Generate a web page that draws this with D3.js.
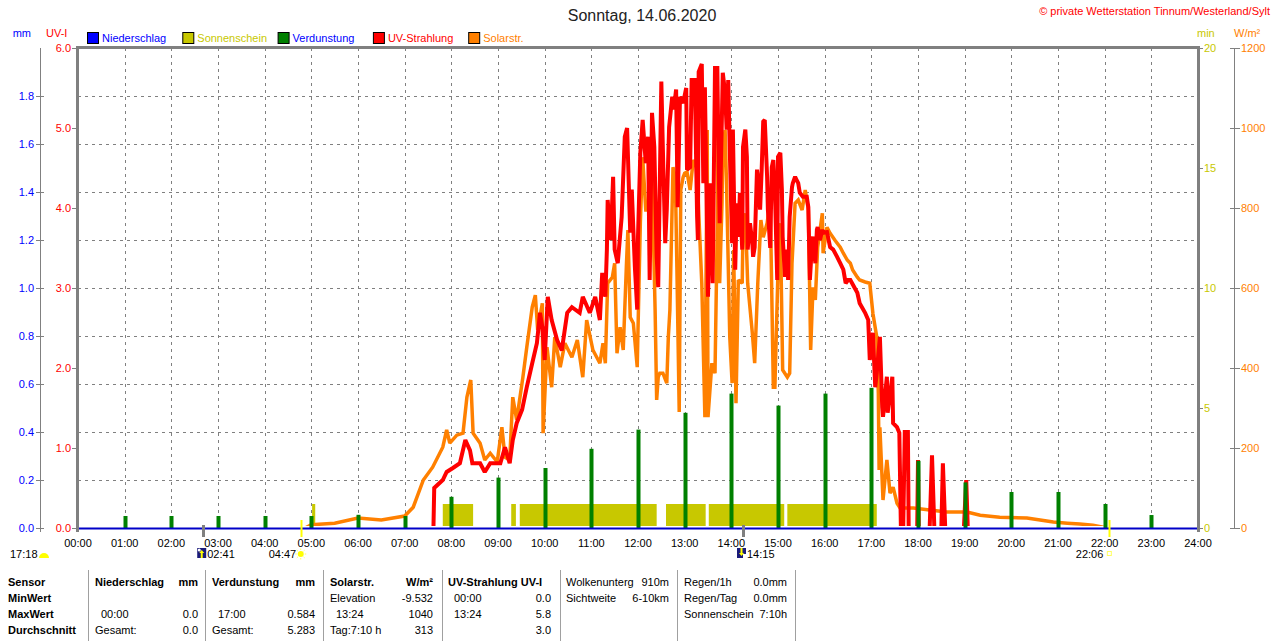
<!DOCTYPE html>
<html lang="de">
<head>
<meta charset="utf-8"/>
<title>Wetterstation Tinnum - 14.06.2020</title>
<script src="https://cdnjs.cloudflare.com/ajax/libs/d3/7.8.5/d3.min.js"></script>
<style>
  body { margin: 0; background: #fff; }
  svg { display: block; font-family: "Liberation Sans", Arial, sans-serif; }
</style>
</head>
<body>
<svg id="chart" width="1280" height="641"></svg>
<script>
// ---- data (time in minutes of the day) ----
var hourLabels = ["00:00","01:00","02:00","03:00","04:00","05:00","06:00","07:00","08:00","09:00","10:00","11:00",
  "12:00","13:00","14:00","15:00","16:00","17:00","18:00","19:00","20:00","21:00","22:00","23:00","24:00"];
var mmTicks = [0, 0.2, 0.4, 0.6, 0.8, 1.0, 1.2, 1.4, 1.6, 1.8];
var uvTicks = [0, 1, 2, 3, 4, 5, 6];
var minTicks = [0, 5, 10, 15, 20];
var solTicks = [0, 200, 400, 600, 800, 1000, 1200];

// Niederschlag (mm) - nothing fell
var rainTime = [0, 1440];
var rainMm = [0, 0];

// Verdunstung (mm), hourly
var evapTime = [60,120,180,240,300,360,420,480,540,600,660,720,780,840,900,960,1020,1080,1140,1200,1260,1320,1380];
var evapMm = [0.05,0.05,0.05,0.05,0.05,0.055,0.05,0.13,0.21,0.25,0.33,0.41,0.48,0.56,0.51,0.56,0.584,0.28,0.19,0.15,0.15,0.10,0.054];

// Sonnenschein (min per min) periods
var sunFrom = [301, 469, 557, 568, 756, 811, 912];
var sunTo = [305, 508, 563, 744, 807, 908, 1027];
var sunMin = [1, 1, 1, 1, 1, 1, 1];

// UV-Strahlung (UV-I)
var uvTime = [0,457,458,469,474,482,491,498,504,507,517,523,530,543,549,555,559,564,571,577,584,590,594,597,600,604,609,616,622,629,635,645,649,658,665,671,674,678,680,681,685,688,690,694,699,703,706,710,712,716,719,720,723,726,730,733,735,738,741,744,746,750,752,755,757,760,764,766,769,771,774,778,782,783,787,789,793,796,797,798,802,804,806,809,810,813,816,819,822,823,825,828,829,832,834,836,838,841,842,845,847,849,851,854,855,858,860,861,864,867,868,870,873,874,877,879,881,883,886,887,890,892,894,896,899,900,903,905,906,909,912,913,915,918,919,922,924,926,928,932,937,939,941,944,945,948,950,951,954,957,958,963,967,971,976,980,984,987,990,993,1002,1005,1012,1016,1018,1022,1025,1027,1031,1034,1035,1040,1041,1047,1048,1053,1056,1058,1061,1063,1067,1068,1079,1080,1081,1095,1098,1101,1110,1112,1115,1139,1142,1144,1440];
var uvIdx = [0,0,0.5,0.6,0.7,0.75,0.81,1.1,0.97,0.81,0.81,0.7,0.81,0.81,1.01,0.81,1.1,1.31,1.48,1.76,2.06,2.31,2.69,2.51,2.1,2.89,2.6,2.35,2.22,2.69,2.76,2.69,2.89,2.69,2.89,2.6,3.19,2.89,3.48,4.1,3.6,4.39,3.48,3.31,3.89,4.89,5.0,3.69,4.23,3.26,2.73,3.64,4.69,5.1,4.56,4.89,3.1,5.19,4.76,3.39,3.01,5.58,4.73,3.56,3.98,5.01,5.39,5.23,5.48,4.01,5.39,5.31,5.5,4.48,4.51,5.6,5.6,3.89,3.6,5.7,5.8,4.31,5.51,3.6,2.89,4.31,3.06,5.75,5.75,5.01,3.81,5.19,5.69,5.44,4.98,5.6,4.73,3.56,4.98,3.23,4.06,3.64,4.19,3.48,4.76,4.98,4.64,3.48,3.81,3.56,3.39,3.51,4.48,4.39,3.98,4.48,5.08,5.1,4.39,3.98,3.5,4.51,4.6,4.23,3.1,4.64,4.69,4.23,3.64,3.14,3.48,3.1,3.89,4.26,4.31,4.39,4.35,4.31,4.19,4.14,4.14,4.01,3.1,3.6,3.64,3.31,3.73,3.76,3.6,3.73,3.69,3.7,3.51,3.48,3.39,3.31,3.23,3.06,3.1,3.1,2.94,2.81,2.69,2.6,2.1,2.44,1.76,1.94,2.39,1.51,1.39,1.89,1.44,1.89,1.31,1.26,1.19,0,0,1.2,1.2,0,0,0.85,0,0,0.91,0,0,0.81,0,0,0.6,0,0];

// Solarstrahlung (W/m²)
var solTime = [0,292,300,330,360,390,420,431,444,456,469,474,478,487,495,500,505,508,517,523,530,539,545,549,555,559,564,572,577,584,588,591,597,598,603,609,613,620,626,635,642,649,654,662,671,675,678,681,687,690,693,697,701,705,707,710,714,719,720,723,726,730,733,738,742,744,746,748,752,757,759,761,765,768,770,773,775,778,780,783,787,791,795,797,802,806,809,810,815,819,822,823,825,828,829,832,834,838,841,843,846,849,854,855,858,861,867,870,874,878,881,886,890,894,896,900,903,906,912,915,918,922,926,931,935,939,942,945,948,951,957,958,963,967,973,980,984,989,993,996,1002,1005,1012,1018,1022,1027,1029,1030,1031,1035,1040,1044,1048,1053,1057,1074,1095,1117,1143,1160,1185,1220,1237,1254,1272,1288,1305,1318,1322,1440];
var solWm = [0,0,8,12,25,20,30,52,120,152,202,245,212,232,237,327,370,237,212,170,187,165,252,177,170,327,270,377,452,552,582,495,562,237,452,352,477,402,462,427,470,377,520,445,412,462,412,612,627,662,437,502,445,652,745,527,512,402,495,762,927,795,795,887,545,320,377,387,387,362,477,545,902,877,652,290,845,877,887,890,845,920,902,837,612,277,995,277,412,387,762,1015,612,812,945,995,845,477,362,695,312,620,612,752,787,612,487,412,612,770,727,762,820,352,352,645,762,395,377,387,662,812,820,795,845,795,445,602,570,702,787,687,752,737,720,702,687,670,662,645,627,620,615,612,537,477,337,145,252,70,170,87,102,62,50,50,45,40,40,32,27,25,20,15,12,10,7,2,0,0];

// sun / moon events shown under the time axis
var eventTime = [161, 287, 855, 1326];
var eventLabel = ["02:41", "04:47", "14:15", "22:06"];

// ---- chart ----
var svg = d3.select("#chart");
var L = 78, R = 1198, T = 48, B = 528;

var x = d3.scaleLinear().domain([0, 1440]).range([L, R]);
var yMM = d3.scaleLinear().domain([0, 2]).range([B, T]);
var yUV = d3.scaleLinear().domain([0, 6]).range([B, T]);
var yMin = d3.scaleLinear().domain([0, 20]).range([B, T]);
var ySol = d3.scaleLinear().domain([0, 1200]).range([B, T]);

var GRAY = "#808080";

// title + copyright
svg.append("text").attr("x", 642).attr("y", 21).attr("text-anchor", "middle")
  .style("font-size", "16px").attr("fill", "#222").text("Sonntag, 14.06.2020");
svg.append("text").attr("x", 1270).attr("y", 15).attr("text-anchor", "end")
  .style("font-size", "11px").attr("fill", "#ff0000").text("© private Wetterstation Tinnum/Westerland/Sylt");

// unit labels
var units = [
  {t: "mm", x: 31, a: "end", c: "#0000ff"},
  {t: "UV-I", x: 46, a: "start", c: "#ff0000"},
  {t: "min", x: 1197, a: "start", c: "#c8c800"},
  {t: "W/m²", x: 1234, a: "start", c: "#ff8000"}
];
svg.selectAll(".unit").data(units).enter().append("text")
  .attr("x", d => d.x).attr("y", 37).attr("text-anchor", d => d.a)
  .style("font-size", "11px").attr("fill", d => d.c).text(d => d.t);

// legend
var legend = [
  {t: "Niederschlag", box: "#0000ff", c: "#0000ff"},
  {t: "Sonnenschein", box: "#c8c800", c: "#c8c800"},
  {t: "Verdunstung", box: "#008000", c: "#0000ff"},
  {t: "UV-Strahlung", box: "#ff0000", c: "#ff0000"},
  {t: "Solarstr.", box: "#ff8000", c: "#ff8000"}
];
var lg = svg.selectAll(".lg").data(legend).enter().append("g")
  .attr("transform", (d, i) => "translate(" + (87 + i * 95.3) + ",32)");
lg.append("rect").attr("x", 0.5).attr("y", 0.5).attr("width", 11).attr("height", 11)
  .attr("fill", d => d.box).attr("stroke", "#000");
lg.append("text").attr("x", 15).attr("y", 10).style("font-size", "11px")
  .attr("fill", d => d.c).text(d => d.t);

// grid
var grid = svg.append("g").attr("stroke", GRAY).attr("stroke-dasharray", "3,4").attr("stroke-width", 1);
grid.selectAll("line.v").data(d3.range(1, 24)).enter().append("line")
  .attr("x1", h => Math.round(x(h * 60)) + 0.5).attr("x2", h => Math.round(x(h * 60)) + 0.5)
  .attr("y1", T).attr("y2", B);
grid.selectAll("line.h").data(mmTicks.slice(1)).enter().append("line")
  .attr("x1", L).attr("x2", R)
  .attr("y1", v => Math.round(yMM(v)) + 0.5).attr("y2", v => Math.round(yMM(v)) + 0.5);

var clip = svg.append("clipPath").attr("id", "plot").append("rect")
  .attr("x", L).attr("y", T).attr("width", R - L).attr("height", B - T - 2);
var plot = svg.append("g").attr("clip-path", "url(#plot)");

// sunshine blocks
plot.selectAll("rect.sun").data(sunFrom).enter().append("rect")
  .attr("x", (d, i) => x(d)).attr("width", (d, i) => x(sunTo[i]) - x(d))
  .attr("y", (d, i) => yMin(sunMin[i])).attr("height", (d, i) => B - yMin(sunMin[i]))
  .attr("fill", "#c8c800");

// evaporation bars
svg.selectAll("rect.evap").data(evapTime).enter().append("rect")
  .attr("x", d => Math.round(x(d)) - 1.5).attr("width", 4)
  .attr("y", (d, i) => yMM(evapMm[i])).attr("height", (d, i) => B - yMM(evapMm[i]))
  .attr("fill", "#008000");

// solar + UV lines
var solLine = d3.line().x(d => x(d[0])).y(d => ySol(d[1]));
var uvLine = d3.line().x(d => x(d[0])).y(d => yUV(d[1]));
plot.append("path").datum(solTime.map((t, i) => [t, solWm[i]]))
  .attr("d", solLine).attr("fill", "none").attr("stroke", "#ff8000")
  .attr("stroke-width", 3.5).attr("stroke-linejoin", "miter").attr("stroke-miterlimit", 2);
plot.append("path").datum(uvTime.map((t, i) => [t, uvIdx[i]]))
  .attr("d", uvLine).attr("fill", "none").attr("stroke", "#ff0000")
  .attr("stroke-width", 4).attr("stroke-linejoin", "miter").attr("stroke-miterlimit", 2);

// precipitation baseline
svg.append("path").datum(rainTime.map((t, i) => [t, rainMm[i]]))
  .attr("d", d3.line().x(d => x(d[0])).y(d => yMM(d[1]) + 0.5))
  .attr("fill", "none").attr("stroke", "#0000c8").attr("stroke-width", 2);

// frame
svg.append("path").attr("d", "M" + (L - 0.5) + "," + (B + 4) + "V" + (T - 0.5) + "H" + (R + 0.5) + "V" + (B + 4))
  .attr("fill", "none").attr("stroke", GRAY).attr("stroke-width", 3);

// left axes
svg.append("line").attr("x1", 40.5).attr("x2", 40.5).attr("y1", T).attr("y2", B + 4).attr("stroke", GRAY);
var mmAx = svg.selectAll(".mmt").data(mmTicks).enter().append("g")
  .attr("transform", d => "translate(0," + Math.round(yMM(d)) + ")");
mmAx.append("line").attr("x1", 36).attr("x2", 44).attr("y1", 0.5).attr("y2", 0.5).attr("stroke", GRAY);
mmAx.append("text").attr("x", 34).attr("y", 4).attr("text-anchor", "end")
  .style("font-size", "11px").attr("fill", "#0000ff").text(d => d.toFixed(1));

var uvAx = svg.selectAll(".uvt").data(uvTicks).enter().append("g")
  .attr("transform", d => "translate(0," + Math.round(yUV(d)) + ")");
uvAx.append("line").attr("x1", 72).attr("x2", 77).attr("y1", 0.5).attr("y2", 0.5).attr("stroke", GRAY);
uvAx.append("text").attr("x", 71).attr("y", 4).attr("text-anchor", "end")
  .style("font-size", "11px").attr("fill", "#ff0000").text(d => d.toFixed(1));

// right axes
var minAx = svg.selectAll(".mint").data(minTicks).enter().append("g")
  .attr("transform", d => "translate(0," + Math.round(yMin(d)) + ")");
minAx.append("line").attr("x1", 1198).attr("x2", 1203).attr("y1", 0.5).attr("y2", 0.5).attr("stroke", GRAY);
minAx.append("text").attr("x", 1204).attr("y", 4)
  .style("font-size", "11px").attr("fill", "#c8c800").text(d => d);

svg.append("line").attr("x1", 1234.5).attr("x2", 1234.5).attr("y1", T).attr("y2", B).attr("stroke", GRAY);
var solAx = svg.selectAll(".solt").data(solTicks).enter().append("g")
  .attr("transform", d => "translate(0," + Math.round(ySol(d)) + ")");
solAx.append("line").attr("x1", 1230).attr("x2", 1240).attr("y1", 0.5).attr("y2", 0.5).attr("stroke", GRAY);
solAx.append("text").attr("x", 1241).attr("y", 4)
  .style("font-size", "11px").attr("fill", "#ff8000").text(d => d);

// time axis labels
svg.selectAll(".xt").data(hourLabels).enter().append("text")
  .attr("x", (d, i) => x(i * 60)).attr("y", 547).attr("text-anchor", "middle")
  .style("font-size", "11px").attr("fill", "#000").text(d => d);

// sun / moon event marks
var evColor = [GRAY, "#ffff00", GRAY, "#ffff00"];
svg.selectAll(".evl").data(eventTime).enter().append("line")
  .attr("x1", d => Math.round(x(d)) + 0.5).attr("x2", d => Math.round(x(d)) + 0.5)
  .attr("y1", (d, i) => i % 2 ? 520 : 525).attr("y2", 537)
  .attr("stroke", (d, i) => evColor[i]).attr("stroke-width", (d, i) => i % 2 ? 2 : 3);

// moonset at left edge
svg.append("text").attr("x", 10).attr("y", 558).style("font-size", "11px").text("17:18");
svg.append("path").attr("d", "M39,558 A5,5 0 0 1 49,558 Z").attr("fill", "#ffff00");

// moonrise 02:41
var mr = svg.append("g").attr("transform", "translate(" + (x(161) - 6) + ",548)");
mr.append("rect").attr("width", 9).attr("height", 10).attr("fill", "#1a1a7a");
mr.append("path").attr("d", "M4.5,2 L7,5 L5.5,5 L5.5,10 L3.5,10 L3.5,5 L2,5 Z").attr("fill", "#ffff00");
mr.append("circle").attr("cx", 2).attr("cy", 2).attr("r", 1.5).attr("fill", "#fff");
svg.append("text").attr("x", x(161) + 4).attr("y", 558).style("font-size", "11px").text(eventLabel[0]);

// sunrise 04:47
svg.append("text").attr("x", x(287) - 5).attr("y", 558).attr("text-anchor", "end").style("font-size", "11px").text(eventLabel[1]);
var sr = svg.append("g").attr("transform", "translate(" + (x(287) - 0.5) + ",554)");
sr.append("circle").attr("r", 3).attr("fill", "#ffff00");
sr.selectAll("line").data(d3.range(8)).enter().append("line")
  .attr("x1", a => 4 * Math.cos(a * Math.PI / 4)).attr("y1", a => 4 * Math.sin(a * Math.PI / 4))
  .attr("x2", a => 5.5 * Math.cos(a * Math.PI / 4)).attr("y2", a => 5.5 * Math.sin(a * Math.PI / 4))
  .attr("stroke", "#ffff60").attr("stroke-width", 1);

// moonset 14:15
var ms = svg.append("g").attr("transform", "translate(" + (x(855) - 6) + ",548)");
ms.append("rect").attr("width", 9).attr("height", 10).attr("fill", "#1a1a7a");
ms.append("path").attr("d", "M4.5,8 L7,5 L5.5,5 L5.5,0 L3.5,0 L3.5,5 L2,5 Z").attr("fill", "#ffff00");
ms.append("rect").attr("x", 6).attr("y", 6).attr("width", 3).attr("height", 4).attr("fill", "#fff");
svg.append("text").attr("x", x(855) + 4).attr("y", 558).style("font-size", "11px").text(eventLabel[2]);

// sunset 22:06
svg.append("text").attr("x", x(1326) - 6).attr("y", 558).attr("text-anchor", "end").style("font-size", "11px").text(eventLabel[3]);
svg.append("rect").attr("x", x(1326) - 2).attr("y", 551.5).attr("width", 4).attr("height", 4)
  .attr("fill", "none").attr("stroke", "#ffff60");

// ---- statistics table ----
var rowsY = [586, 602, 618, 634];
var sep = [88, 205, 323, 442, 560, 677, 795];
svg.selectAll(".sep").data(sep).enter().append("line")
  .attr("x1", d => d + 0.5).attr("x2", d => d + 0.5).attr("y1", 570).attr("y2", 641)
  .attr("stroke", "#a0a0a0");

var rowHead = ["Sensor", "MinWert", "MaxWert", "Durchschnitt"];
svg.selectAll(".rh").data(rowHead).enter().append("text")
  .attr("x", 8).attr("y", (d, i) => rowsY[i]).style("font-size", "11px").style("font-weight", "bold").text(d => d);

// each cell: [column start, row, left text, right text, bold]
var cells = [
  [95, 0, "Niederschlag", "mm", true], [95, 2, " 00:00", "0.0"], [95, 3, "Gesamt:", "0.0"],
  [212, 0, "Verdunstung", "mm", true], [212, 2, " 17:00", "0.584"], [212, 3, "Gesamt:", "5.283"],
  [330, 0, "Solarstr.", "W/m²", true], [330, 1, "Elevation", "-9.532"], [330, 2, " 13:24", "1040"], [330, 3, "Tag:7:10 h", "313"],
  [448, 0, "UV-Strahlung UV-I", "", true], [448, 1, " 00:00", "0.0"], [448, 2, " 13:24", "5.8"], [448, 3, "", "3.0"],
  [566, 0, "Wolkenunterg", "910m"], [566, 1, "Sichtweite", "6-10km"],
  [684, 0, "Regen/1h", "0.0mm"], [684, 1, "Regen/Tag", "0.0mm"], [684, 2, "Sonnenschein", "7:10h"]
];
var cg = svg.selectAll(".cell").data(cells).enter().append("g");
cg.append("text").attr("x", d => d[0] + (d[2].charAt(0) === " " ? 6 : 0)).attr("y", d => rowsY[d[1]])
  .style("font-size", "11px").style("font-weight", d => d[4] ? "bold" : "normal")
  .style("white-space", "pre").text(d => d[2].trim());
cg.append("text").attr("x", d => d[0] + 103).attr("y", d => rowsY[d[1]]).attr("text-anchor", "end")
  .style("font-size", "11px").style("font-weight", d => d[4] ? "bold" : "normal").text(d => d[3]);
</script>
</body>
</html>
